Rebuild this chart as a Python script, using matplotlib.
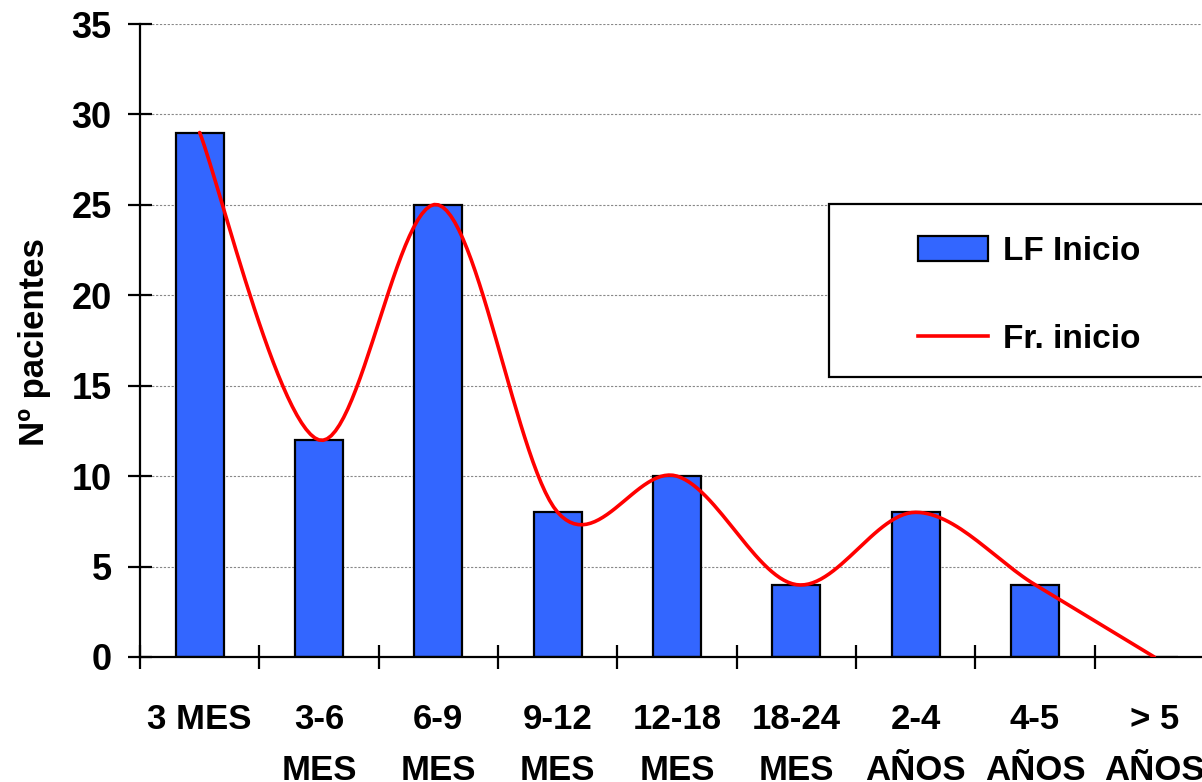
import numpy as np
import matplotlib
matplotlib.use("Agg")
import matplotlib.pyplot as plt
from matplotlib.patches import Rectangle
from matplotlib.lines import Line2D
from matplotlib.patches import Patch

plt.rcParams['font.family'] = ['Liberation Sans', 'DejaVu Sans']
plt.rcParams['font.weight'] = 'bold'

# age at onset groups and number of patients
categories = ["3 MES", "3-6\nMES", "6-9\nMES", "9-12\nMES", "12-18\nMES",
              "18-24\nMES", "2-4\nAÑOS", "4-5\nAÑOS", "> 5\nAÑOS"]
lf_inicio = [29, 12, 25, 8, 10, 4, 8, 4, 0]
fr_inicio = [29, 12, 25, 8, 10, 4, 8, 4, 0]
y_ticks = [0, 5, 10, 15, 20, 25, 30, 35]


def smooth_line(xs, ys, steps=30):
    # Catmull-Rom style bezier smoothing (like a spreadsheet "smoothed line")
    pts = np.column_stack([xs, ys]).astype(float)
    ext = np.vstack([pts[0], pts, pts[-1]])
    out = []
    for i in range(1, len(ext) - 2):
        p0, p1, p2, p3 = ext[i - 1], ext[i], ext[i + 1], ext[i + 2]
        b1 = p1 + (p2 - p0) / 6.0
        b2 = p2 - (p3 - p1) / 6.0
        t = np.linspace(0, 1, steps)[:, None]
        seg = ((1 - t) ** 3) * p1 + 3 * ((1 - t) ** 2) * t * b1 \
            + 3 * (1 - t) * t ** 2 * b2 + t ** 3 * p2
        out.append(seg if i == 1 else seg[1:])
    out = np.vstack(out)
    return out[:, 0], out[:, 1]


fig = plt.figure(figsize=(12.02, 7.82), dpi=100)
ax = fig.add_axes([140 / 1202, 1 - 657 / 782, 1074 / 1202, 633 / 782])

x = np.arange(len(categories))
ax.bar(x, lf_inicio, width=0.4, color='#3366FF', edgecolor='black',
       linewidth=1.6, zorder=2)
sx, sy = smooth_line(x, fr_inicio)
ax.plot(sx, sy, color='#FF0000', linewidth=2.6, zorder=3,
        solid_capstyle='round')

ax.set_xlim(-0.5, len(categories) - 0.5)
ax.set_ylim(0, 35)
ax.set_yticks(y_ticks)
ax.set_xticks(np.arange(len(categories) + 1) - 0.5)
ax.set_xticklabels([])
ax.set_xticks(x, minor=True)
ax.set_xticklabels(categories, minor=True, fontsize=25, fontweight='bold',
                   linespacing=1.7, va='top')
ax.tick_params(axis='x', which='minor', length=0, pad=33)
ax.tick_params(axis='x', which='major', direction='inout', length=17,
               width=1.6)
ax.tick_params(axis='y', direction='inout', length=17, width=1.6,
               labelsize=26, pad=12)
for lab in ax.get_yticklabels():
    lab.set_fontweight('bold')

ax.yaxis.grid(True, color='#888888', linestyle=(0, (2, 1.5)), linewidth=0.8)
ax.set_axisbelow(True)
for side in ['top', 'right']:
    ax.spines[side].set_visible(False)
for side in ['left', 'bottom']:
    ax.spines[side].set_linewidth(1.6)

fig.text(35 / 1202, 1 - 342 / 782, "Nº pacientes", rotation=90,
         fontsize=25, fontweight='bold', ha='center', va='center')

# legend box, running off the right edge of the figure
fig.patches.append(Rectangle((829 / 1202, 1 - 377 / 782), 0.4, 173 / 782,
                             transform=fig.transFigure, facecolor='white',
                             edgecolor='black', linewidth=1.6, zorder=5))
handles = [Patch(facecolor='#3366FF', edgecolor='black', linewidth=1.6),
           Line2D([0], [0], color='#FF0000', linewidth=2.6)]
leg = fig.legend(handles, ["LF Inicio", "Fr. inicio"], loc='upper left',
                 bbox_to_anchor=(918 / 1202, 1 - 236 / 782), frameon=False,
                 prop={'size': 24, 'weight': 'bold'}, handlelength=2.1,
                 handleheight=0.75, handletextpad=0.45, labelspacing=1.7,
                 borderpad=0, borderaxespad=0)
leg.set_zorder(6)

fig.savefig("out.png", dpi=100)
